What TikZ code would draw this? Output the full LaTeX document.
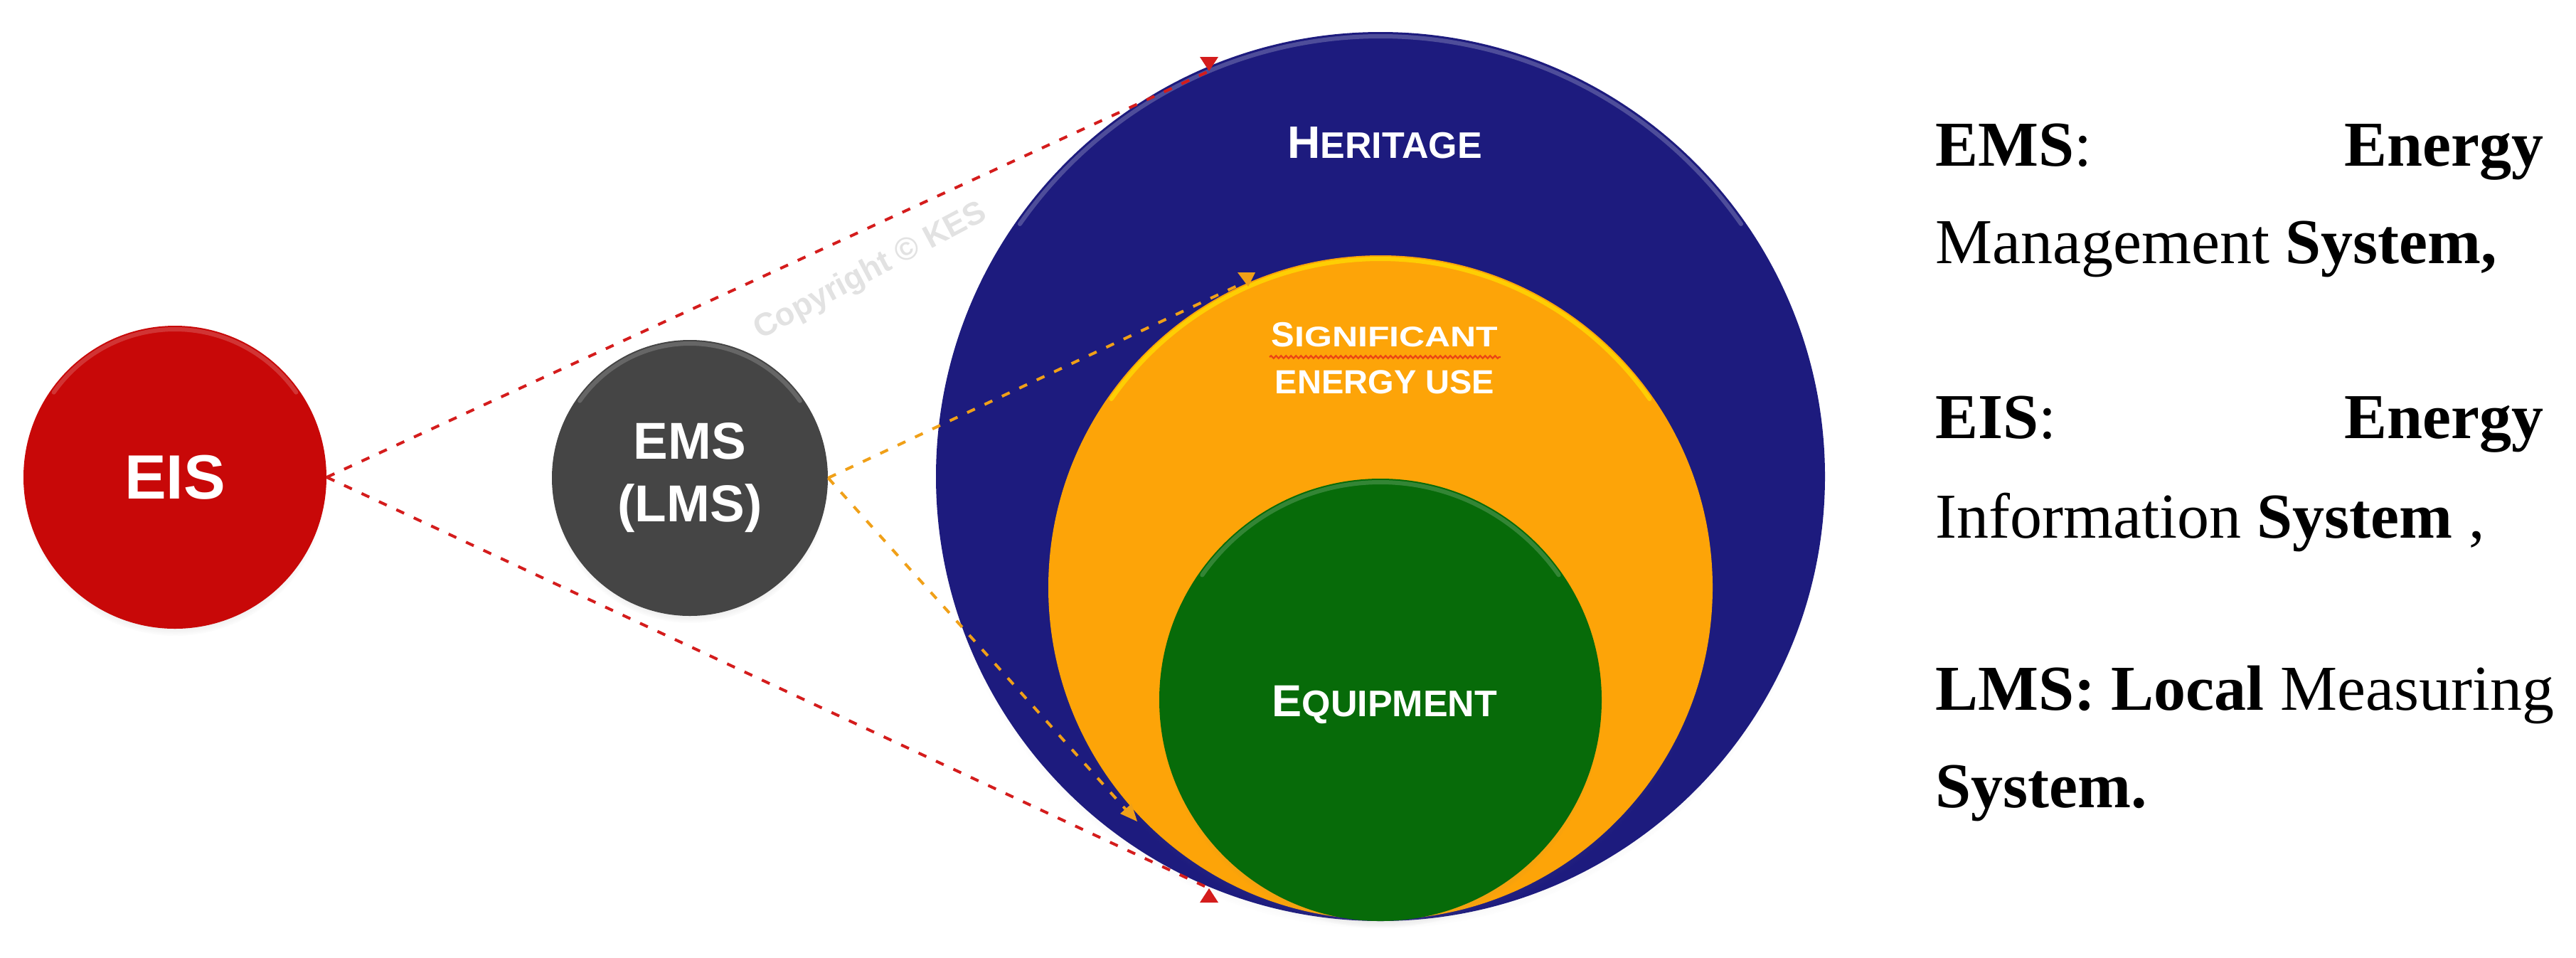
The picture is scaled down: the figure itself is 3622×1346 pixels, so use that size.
\documentclass[tikz,border=0pt]{standalone}
\usepackage{fontspec}
\usepackage{graphicx}
\setmainfont{Liberation Serif}
\newfontfamily\arialfont{Liberation Sans}
\usetikzlibrary{shadows,decorations.pathmorphing}
\definecolor{eisred}{RGB}{200,8,8}
\definecolor{emsgray}{RGB}{69,69,69}
\definecolor{navy}{RGB}{29,27,126}
\definecolor{seuorange}{RGB}{253,164,8}
\definecolor{eqgreen}{RGB}{7,107,9}
\definecolor{dashred}{RGB}{212,28,28}
\definecolor{dashorange}{RGB}{240,160,24}
\definecolor{wmgray}{RGB}{226,226,226}
\definecolor{squig}{RGB}{235,70,20}
\begin{document}
\begin{tikzpicture}[x=0.5pt,y=-0.5pt,
  disc/.style={circle, inner sep=0pt, text=white, font=\arialfont\bfseries,
    circular drop shadow={shadow xshift=0pt, shadow yshift=-5pt, shadow scale=1.0, opacity=0.35}},
  label/.style={inner sep=0pt, text=white, font=\arialfont\bfseries},
  legend/.style={inner sep=0pt, font=\fontsize{45pt}{54pt}\selectfont},
  reddash/.style={draw=dashred, line width=2pt, dash pattern=on 6pt off 7.5pt},
  orangedash/.style={draw=dashorange, line width=2pt, dash pattern=on 6pt off 7.5pt},
  rim/.style={line width=3pt, draw=white, opacity=0.18, line cap=round}
]
\useasboundingbox (0,0) rectangle (3622,1346);
\fill[white] (0,0) rectangle (3622,1346);

% watermark
\node[rotate=28, inner sep=0pt, text=wmgray, font=\arialfont\bfseries\fontsize{22.5pt}{27pt}\selectfont] (wm) at (1224,382) {Copyright © KES};

% circles
\node[disc, fill=eisred, minimum size=213pt, font=\arialfont\bfseries\fontsize{44pt}{52pt}\selectfont] (eis) at (246,671) {EIS};
\node[disc, fill=emsgray, minimum size=194pt, align=center, font=\arialfont\bfseries\fontsize{36.5pt}{44pt}\selectfont] (ems) at (970,672) {EMS\\(LMS)};
\node[disc, fill=navy, minimum size=625pt] (her) at (1941,670) {};
\node[disc, fill=seuorange, minimum size=467pt] (seu) at (1941,826) {};
\node[disc, fill=eqgreen, minimum size=311pt] (equ) at (1941,984) {};

% top highlights
\draw[rim] (eis.center) ++(215:208) arc[start angle=215, end angle=325, radius=208];
\draw[rim] (ems.center) ++(215:189) arc[start angle=215, end angle=325, radius=189];
\draw[rim, opacity=0.22] (her.center) ++(215:619) arc[start angle=215, end angle=325, radius=619];
\draw[rim, draw=yellow, opacity=0.55] (seu.center) ++(215:462) arc[start angle=215, end angle=325, radius=462];
\draw[rim] (equ.center) ++(215:306) arc[start angle=215, end angle=325, radius=306];

% labels inside big circles
\node[label, anchor=base] (herTxt) at (1947,222)
  {{\fontsize{32pt}{38pt}\selectfont H}{\fontsize{26pt}{31pt}\selectfont ERITAGE}};
\node[label, anchor=base] (seuTxt1) at (1947,487)
  {{\fontsize{24.5pt}{29pt}\selectfont S}\scalebox{1.25}[1]{\fontsize{20pt}{24pt}\selectfont IGNIFICANT}};
\node[label, anchor=base] (seuTxt2) at (1947,553)
  {\fontsize{23.5pt}{28pt}\selectfont ENERGY USE};
\draw[decorate, decoration={snake, amplitude=0.9pt, segment length=3.5pt}, draw=squig, line width=1.1pt]
  (1785,502) -- (2110,502);
\node[label, anchor=base] (equTxt) at (1947,1007)
  {{\fontsize{31.5pt}{38pt}\selectfont E}{\fontsize{26pt}{31pt}\selectfont QUIPMENT}};

% connector end points
\coordinate (r1) at (1700,100);
\coordinate (r2) at (1700,1249);
\coordinate (o1) at (1752,396);
\coordinate (o2) at (1590,1146);

% connectors
\draw[reddash] (eis.east) -- (r1);
\draw[reddash] (eis.east) -- (r2);
\draw[orangedash] (ems.east) -- (o1);
\draw[orangedash] (ems.east) -- (o2);

% arrow heads
\fill[dashred] (r1) ++(-13,-20) -- ++(26,0) -- (r1) -- cycle;
\fill[dashred] (r2) ++(-13,20) -- ++(26,0) -- (r2) -- cycle;
\fill[dashorange] (o1) ++(-12,-13) -- ++(25,0) -- ++(-10,20) -- cycle;
\fill[dashorange] (o2) ++(-15,-2) -- ++(16,-14) -- ++(8,25) -- cycle;

% legend
\node[legend, anchor=base west] (l1a) at (2721,233) {\textbf{EMS}:};
\node[legend, anchor=base east] (l1b) at (3577,233) {\textbf{Energy}};
\node[legend, anchor=base west] (l2) at (2721,370) {Management \textbf{System,}};
\node[legend, anchor=base west] (l3a) at (2721,616) {\textbf{EIS}:};
\node[legend, anchor=base east] (l3b) at (3577,616) {\textbf{Energy}};
\node[legend, anchor=base west] (l4) at (2721,756) {Information \textbf{System} ,};
\node[legend, anchor=base west] (l5) at (2721,998) {\textbf{LMS: Local} Measuring};
\node[legend, anchor=base west] (l6) at (2721,1135) {\textbf{System.}};
\end{tikzpicture}
\end{document}
